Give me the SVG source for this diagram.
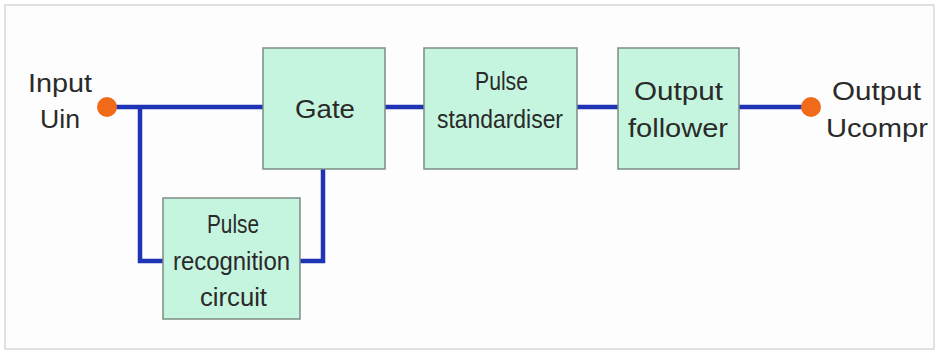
<svg xmlns="http://www.w3.org/2000/svg" width="938" height="353" viewBox="0 0 938 353">
<style>
.bg{fill:#fdfdfd;stroke:#d8d8d8;stroke-width:1.5}
.box{fill:#c6f5df;stroke:#7d8c84;stroke-width:1.5}
.wire{fill:none;stroke:#1f33b5;stroke-width:4.5}
.dot{fill:#f06a1a}
text{font-family:"Liberation Sans","DejaVu Sans",sans-serif;fill:#2a2a2a}
.lbl{font-size:25px}
</style>
<rect class="bg" x="5" y="5" width="929" height="344"/>
<g id="connectors">
<path class="wire" d="M107 107 H263"/>
<path class="wire" d="M140 107 V261 H163"/>
<path class="wire" d="M300 261 H323 V169"/>
<path class="wire" d="M385 107 H424"/>
<path class="wire" d="M577 107 H618"/>
<path class="wire" d="M739 107 H811"/>
</g>
<g id="input">
<circle class="dot" cx="107" cy="107" r="10"/>
<text class="lbl" x="28" y="92" textLength="64" lengthAdjust="spacingAndGlyphs">Input</text>
<text class="lbl" x="40" y="128" textLength="40" lengthAdjust="spacingAndGlyphs">Uin</text>
</g>
<g id="gate">
<rect class="box" x="263" y="48" width="122" height="121"/>
<text class="lbl" x="295" y="118" textLength="60" lengthAdjust="spacingAndGlyphs">Gate</text>
</g>
<g id="pulse-standardiser">
<rect class="box" x="424" y="48" width="153" height="121"/>
<text class="lbl" x="475" y="90" textLength="53" lengthAdjust="spacingAndGlyphs">Pulse</text>
<text class="lbl" x="437" y="128" textLength="126" lengthAdjust="spacingAndGlyphs">standardiser</text>
</g>
<g id="output-follower">
<rect class="box" x="618" y="48" width="121" height="121"/>
<text class="lbl" x="634" y="100" textLength="89" lengthAdjust="spacingAndGlyphs">Output</text>
<text class="lbl" x="628" y="137" textLength="100" lengthAdjust="spacingAndGlyphs">follower</text>
</g>
<g id="output">
<circle class="dot" cx="811" cy="107" r="10"/>
<text class="lbl" x="832" y="100" textLength="89" lengthAdjust="spacingAndGlyphs">Output</text>
<text class="lbl" x="826" y="137" textLength="102" lengthAdjust="spacingAndGlyphs">Ucompr</text>
</g>
<g id="pulse-recognition">
<rect class="box" x="163" y="198" width="137" height="121"/>
<text class="lbl" x="207" y="233" textLength="52" lengthAdjust="spacingAndGlyphs">Pulse</text>
<text class="lbl" x="173" y="270" textLength="117" lengthAdjust="spacingAndGlyphs">recognition</text>
<text class="lbl" x="200" y="306" textLength="67" lengthAdjust="spacingAndGlyphs">circuit</text>
</g>
</svg>
